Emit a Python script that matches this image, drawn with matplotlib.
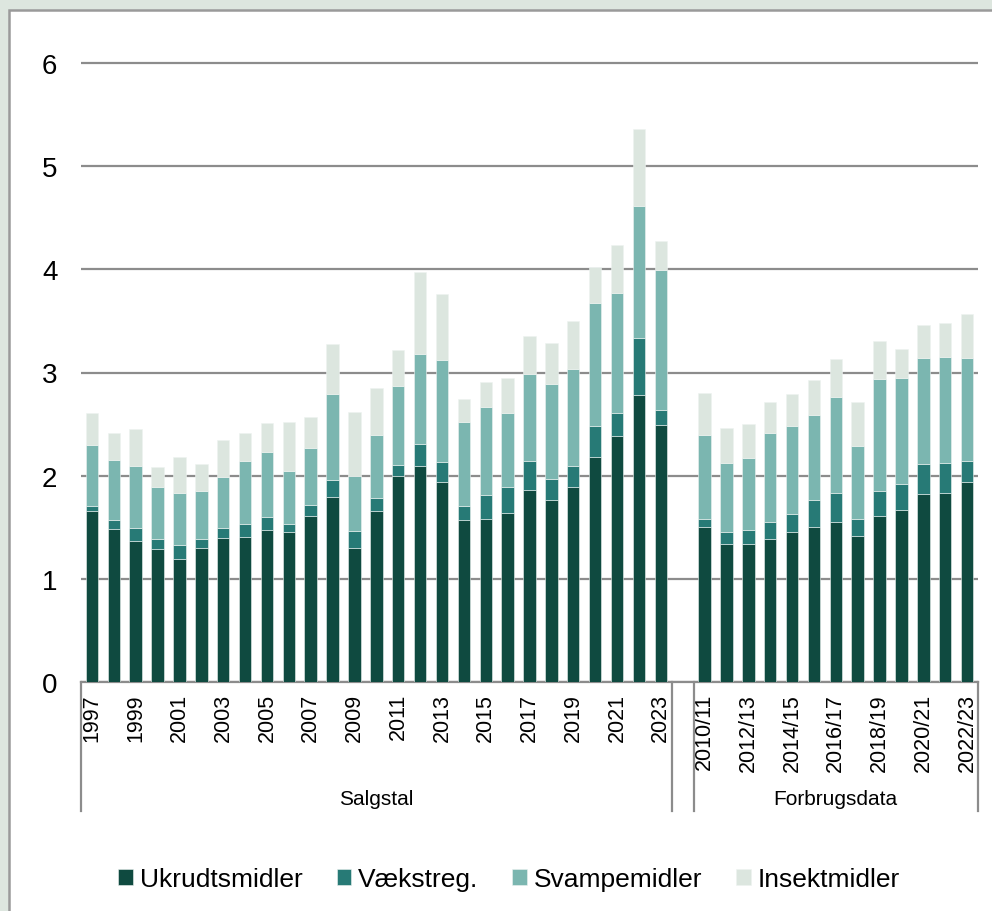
import matplotlib
matplotlib.use("Agg")
import matplotlib.pyplot as plt
import matplotlib.transforms as mtransforms
from matplotlib.patches import Rectangle
import numpy as np

plt.rcParams["font.family"] = ["Liberation Sans", "DejaVu Sans"]

# Salgstal 1997-2023
sales_years = [str(y) for y in range(1997, 2024)]
sales_ukrudt = [1.66, 1.48, 1.37, 1.29, 1.19, 1.30, 1.40, 1.41, 1.47, 1.45, 1.61, 1.79, 1.30, 1.66,
                2.00, 2.09, 1.94, 1.57, 1.58, 1.64, 1.86, 1.76, 1.89, 2.18, 2.38, 2.78, 2.49]
sales_vaekst = [0.05, 0.09, 0.12, 0.10, 0.14, 0.09, 0.09, 0.12, 0.13, 0.08, 0.11, 0.17, 0.16, 0.12,
                0.10, 0.22, 0.19, 0.14, 0.23, 0.25, 0.28, 0.21, 0.20, 0.30, 0.23, 0.55, 0.15]
sales_svamp = [0.59, 0.58, 0.60, 0.50, 0.50, 0.46, 0.50, 0.61, 0.63, 0.52, 0.55, 0.83, 0.54, 0.61,
               0.77, 0.87, 0.99, 0.81, 0.86, 0.72, 0.85, 0.92, 0.94, 1.19, 1.16, 1.28, 1.35]
sales_insekt = [0.31, 0.26, 0.36, 0.19, 0.35, 0.26, 0.36, 0.27, 0.28, 0.47, 0.30, 0.49, 0.62, 0.46,
                0.35, 0.79, 0.64, 0.22, 0.24, 0.34, 0.36, 0.40, 0.47, 0.35, 0.47, 0.75, 0.28]

# Forbrugsdata 2010/11-2022/23
use_years = ["2010/11", "2011/12", "2012/13", "2013/14", "2014/15", "2015/16", "2016/17",
             "2017/18", "2018/19", "2019/20", "2020/21", "2021/22", "2022/23"]
use_ukrudt = [1.50, 1.34, 1.34, 1.39, 1.45, 1.50, 1.55, 1.42, 1.61, 1.67, 1.82, 1.83, 1.94]
use_vaekst = [0.08, 0.11, 0.13, 0.16, 0.18, 0.26, 0.28, 0.16, 0.24, 0.25, 0.29, 0.29, 0.20]
use_svamp = [0.81, 0.67, 0.70, 0.86, 0.85, 0.83, 0.93, 0.71, 1.09, 1.03, 1.03, 1.03, 1.00]
use_insekt = [0.41, 0.34, 0.33, 0.30, 0.31, 0.34, 0.37, 0.42, 0.37, 0.28, 0.32, 0.33, 0.43]

series_names = ["Ukrudtsmidler", "Vækstreg.", "Svampemidler", "Insektmidler"]
colors = ["#0f4a40", "#277a76", "#7bb6b0", "#dce6df"]

# one empty category between the two groups
n_sales = len(sales_years)
labels = sales_years + [""] + use_years
x = np.arange(len(labels))
data = [
    sales_ukrudt + [0] + use_ukrudt,
    sales_vaekst + [0] + use_vaekst,
    sales_svamp + [0] + use_svamp,
    sales_insekt + [0] + use_insekt,
]

fig = plt.figure(figsize=(9.92, 9.12), dpi=100, facecolor="#dde6df")
fig.patches.append(Rectangle((9 / 992, -0.1), 1.2, 1.1 - 11 / 912, transform=fig.transFigure,
                             facecolor="white", edgecolor="#9a9a9a", lw=1.8, zorder=-10))

# axes top a few px above the 6 gridline so it is not clipped
ax = fig.add_axes([81 / 992, 1 - 683 / 912, (978 - 81) / 992, (683 - 59) / 912])
ax.set_facecolor("white")

bottom = np.zeros(len(labels))
for vals, name, col in zip(data, series_names, colors):
    vals = np.array(vals, dtype=float)
    ax.bar(x, vals, width=0.57, bottom=bottom, color=col, edgecolor="#eef3f1",
           linewidth=0.4, label=name, zorder=3)
    bottom += vals

ax.set_xlim(-0.5, len(labels) - 0.5)
ax.set_ylim(0, 6 * (683 - 59) / (683 - 64))
ax.set_yticks(range(0, 7))
ax.yaxis.grid(True, color="#8c8c8c", lw=1.6, zorder=0)
ax.tick_params(axis="y", length=0, pad=17, labelsize=20)
ax.tick_params(axis="x", length=0, pad=8)
for s in ["top", "right", "left"]:
    ax.spines[s].set_visible(False)
ax.spines["bottom"].set_color("#8c8c8c")
ax.spines["bottom"].set_linewidth(1.6)

shown = [i for i in range(n_sales) if i % 2 == 0] + \
        [n_sales + 1 + i for i in range(len(use_years)) if i % 2 == 0]
ax.set_xticks(shown)
ax.set_xticklabels([labels[i] for i in shown], rotation=90, fontsize=15.5, va="top", ha="center")

# group separators and group labels below the axis
trans = mtransforms.blended_transform_factory(ax.transData, ax.transAxes)
h = 683 - 59
depth = -(812 - 683) / h
for xb in [-0.5, n_sales - 0.5, n_sales + 0.5, len(labels) - 0.5]:
    ax.plot([xb, xb], [0, depth], transform=trans, color="#8c8c8c", lw=1.6, clip_on=False)
label_y = -(800 - 683) / h
ax.text((n_sales - 1) / 2, label_y, "Salgstal", transform=trans, ha="center", va="center",
        fontsize=15)
ax.text(n_sales + 1 + (len(use_years) - 1) / 2, label_y, "Forbrugsdata", transform=trans,
        ha="center", va="center", fontsize=15)

fig.legend(loc="center", bbox_to_anchor=(509 / 992, 1 - 880 / 912), ncol=4, frameon=False,
           fontsize=19, handlelength=0.55, handleheight=0.55, handletextpad=0.25,
           columnspacing=1.3)

fig.savefig("out.png", dpi=100, facecolor=fig.get_facecolor())
